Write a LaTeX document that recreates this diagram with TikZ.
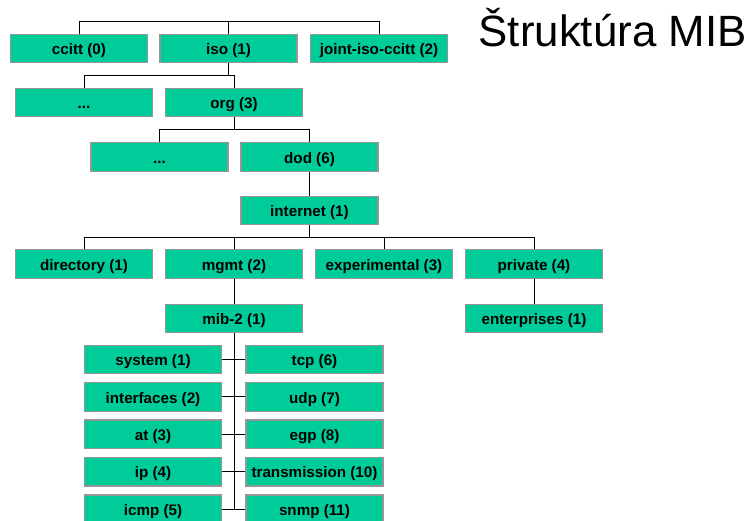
\documentclass[tikz,border=0pt]{standalone}
\usepackage{fontspec}
\setmainfont{Liberation Sans}
\definecolor{boxfill}{RGB}{0,204,153}
\definecolor{boxline}{RGB}{150,150,150}
\begin{document}
\begin{tikzpicture}[x=1pt,y=-1pt,
  mibbox/.style={draw=boxline,line width=1.3pt,fill=boxfill,minimum width=137pt,minimum height=28.5pt,inner sep=0pt,text height=12.5pt,text depth=0pt,font=\fontsize{15.2}{18}\selectfont\bfseries},
  conn/.style={draw=black,line width=1pt}]
\useasboundingbox (0,0) rectangle (749,521);
% row 1
\node[mibbox] (ccitt) at (79,48.5) {ccitt (0)};
\node[mibbox] (iso) at (228.5,48.5) {iso (1)};
\node[mibbox] (joint) at (379,48.5) {joint-iso-ccitt (2)};
% row 2
\node[mibbox] (dotsA) at (84,102.5) {...};
\node[mibbox] (org) at (234,102.5) {org (3)};
% row 3
\node[mibbox] (dotsB) at (159.5,157) {...};
\node[mibbox] (dod) at (309.5,157) {dod (6)};
% row 4
\node[mibbox] (internet) at (309.5,210.5) {internet (1)};
% row 5
\node[mibbox] (directory) at (84,264) {directory (1)};
\node[mibbox] (mgmt) at (234,264) {mgmt (2)};
\node[mibbox] (experimental) at (384,264) {experimental (3)};
\node[mibbox] (private) at (534,264) {private (4)};
% row 6
\node[mibbox] (mib) at (234,318.5) {mib-2 (1)};
\node[mibbox] (enterprises) at (534,318.5) {enterprises (1)};
% mib-2 children
\node[mibbox] (system) at (153,359.5) {system (1)};
\node[mibbox] (interfaces) at (153,396.9) {interfaces (2)};
\node[mibbox] (at) at (153,434.3) {at (3)};
\node[mibbox] (ip) at (153,471.7) {ip (4)};
\node[mibbox] (icmp) at (153,509.1) {icmp (5)};
\node[mibbox] (tcp) at (314.5,359.5) {tcp (6)};
\node[mibbox] (udp) at (314.5,396.9) {udp (7)};
\node[mibbox] (egp) at (314.5,434.3) {egp (8)};
\node[mibbox] (transmission) at (314.5,471.7) {transmission (10)};
\node[mibbox] (snmp) at (314.5,509.1) {snmp (11)};
% title
\node[anchor=base west,inner sep=0pt,font=\fontsize{43.8}{50}\selectfont] (title) at (478.5,47) {Štruktúra MIB};
% connectors
\coordinate (barA) at (0,22);
\draw[conn] (ccitt.north) |- (barA -| joint.north) -- (joint.north);
\draw[conn] (iso.north) -- (iso.north |- barA);
\coordinate (barB) at (0,76);
\draw[conn] (iso.south) -- (iso.south |- barB);
\draw[conn] (dotsA.north) |- (barB -| org.north) -- (org.north);
\coordinate (barC) at (0,130);
\draw[conn] (org.south) -- (org.south |- barC);
\draw[conn] (dotsB.north) |- (barC -| dod.north) -- (dod.north);
\draw[conn] (dod.south) -- (internet.north);
\coordinate (barD) at (0,238);
\draw[conn] (internet.south) -- (internet.south |- barD);
\draw[conn] (directory.north) |- (barD -| private.north) -- (private.north);
\draw[conn] (mgmt.north) -- (mgmt.north |- barD);
\draw[conn] (experimental.north) -- (experimental.north |- barD);
\draw[conn] (mgmt.south) -- (mib.north);
\draw[conn] (private.south) -- (enterprises.north);
\draw[conn] (mib.south) -- (mib.south |- snmp.west);
\foreach \l/\r in {system/tcp,interfaces/udp,at/egp,ip/transmission,icmp/snmp}{
  \draw[conn] (\l.east) -- (\r.west);
}
\end{tikzpicture}
\end{document}
